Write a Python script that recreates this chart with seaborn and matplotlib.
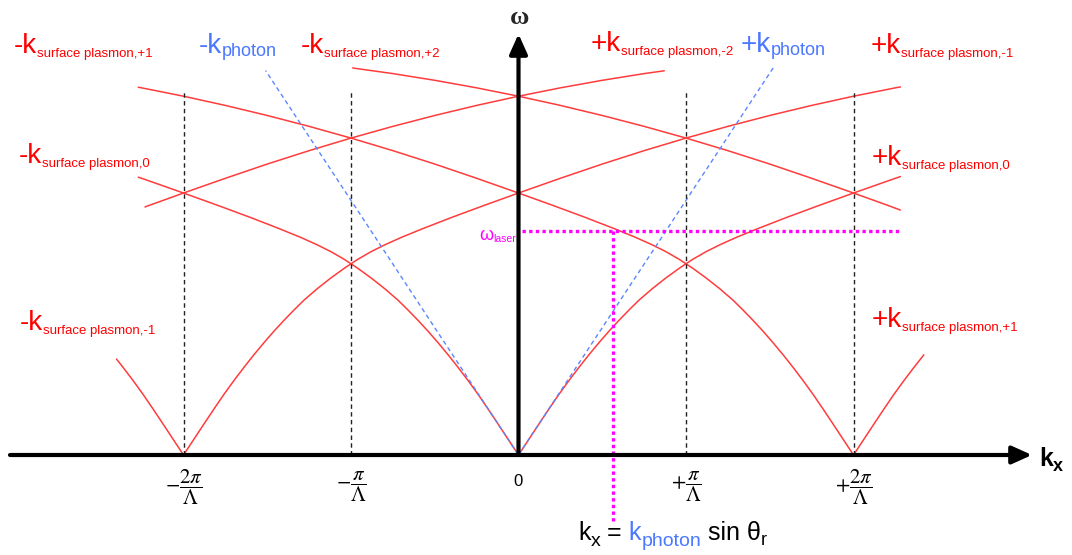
import numpy as np
import pandas as pd
import matplotlib
matplotlib.use("Agg")
import matplotlib.pyplot as plt
import seaborn as sns

# ---- data -------------------------------------------------------------
# one surface-plasmon branch: offset from its zone centre (units of pi/Lambda) -> frequency
sp_dk = [0.0, 0.06, 0.12, 0.18, 0.24, 0.30, 0.36, 0.42, 0.48, 0.54, 0.60,
         0.66, 0.72, 0.80, 0.88, 0.96, 1.04, 1.12, 1.20, 1.30, 1.43, 1.60,
         1.80, 2.00, 2.25, 2.50, 2.75, 3.00, 3.25, 3.50, 3.75, 4.00, 4.25,
         4.50, 4.75, 5.00]
sp_w = [0.0, 0.091, 0.182, 0.272, 0.360, 0.443, 0.522, 0.598, 0.670, 0.739,
        0.804, 0.866, 0.925, 0.994, 1.057, 1.115, 1.168, 1.214, 1.254, 1.299,
        1.352, 1.418, 1.492, 1.564, 1.652, 1.737, 1.817, 1.892, 1.962, 2.027,
        2.087, 2.142, 2.192, 2.237, 2.277, 2.312]

# folded branches: zone centre (pi/Lambda), direction, drawn offset range
branch_centre = [0, 0, -2, -2, 2, 2, -4, 4]
branch_dir = [1, -1, 1, -1, -1, 1, 1, -1]
branch_start = [0.0, 0.0, 0.0, 0.0, 0.0, 0.0, 1.77, 1.72]
branch_end = [2.28, 2.27, 4.28, 0.40, 4.27, 0.42, 4.87, 4.99]

# light lines
photon_slope = 1.52
photon_k_end = [-1.51, 1.52]

# Bragg planes
bragg_k = [-2, -1, 1, 2]
bragg_top = 2.18

# laser frequency and matching in-plane wavevector
w_laser = 1.337
k_laser = 0.567
laser_k_right = 2.27
laser_w_bottom = -0.40

tick_k = [-2, -1, 0, 1, 2]
tick_text = [r"$-\dfrac{2\pi}{\Lambda}$", r"$-\dfrac{\pi}{\Lambda}$", "0",
             r"$+\dfrac{\pi}{\Lambda}$", r"$+\dfrac{2\pi}{\Lambda}$"]

# branch labels: main text, subscript, kind, left x / baseline y (px)
label_main = ["-k", "-k", "-k", "+k", "+k", "+k", "-k", "+k", "-k", "+k"]
label_sub = ["surface plasmon,+1", "photon", "surface plasmon,+2",
             "surface plasmon,-2", "photon", "surface plasmon,-1",
             "surface plasmon,0", "surface plasmon,0",
             "surface plasmon,-1", "surface plasmon,+1"]
label_kind = ["sp", "ph", "sp", "sp", "ph", "sp", "sp", "sp", "sp", "sp"]
label_pos = [(14, 53), (199, 53), (301, 53), (591, 51), (741, 52), (871, 53),
             (19, 163), (872, 165), (20, 330), (872, 327)]

# ---- style ------------------------------------------------------------
sns.set_theme(style="white")
plt.rcParams["font.family"] = ["Liberation Sans", "DejaVu Sans"]
plt.rcParams["mathtext.fontset"] = "stix"

RED_LINE = "#FF3C3C"
RED_TEXT = "#FF0000"
BLUE_LINE = "#5A86FF"
BLUE_TEXT = "#4A78FF"
MAGENTA = "#FF00FF"

W, H = 1072, 555
PX = 167.5           # pixels per pi/Lambda (and per frequency unit)
X0, Y0 = 518.5, 455  # origin in pixels

fig = plt.figure(figsize=(W / 100, H / 100), dpi=100)
ax = fig.add_axes([0, 0, 1, 1])
ax.set_xlim(-X0 / PX, (W - X0) / PX)
ax.set_ylim((Y0 - H) / PX, Y0 / PX)
ax.axis("off")

# ---- surface plasmon branches --------------------------------------
dk = np.asarray(sp_dk)
wv = np.asarray(sp_w)
rows = []
for i, (c, s, d0, d1) in enumerate(zip(branch_centre, branch_dir, branch_start, branch_end)):
    inner = dk[(dk > d0) & (dk < d1)]
    d = np.concatenate([[d0], inner, [d1]])
    w = np.interp(d, dk, wv)
    for di, wi in zip(d, w):
        rows.append({"k": c + s * di, "w": wi, "branch": i})
sp_df = pd.DataFrame(rows)
sns.lineplot(data=sp_df, x="k", y="w", units="branch", estimator=None,
             sort=False, color=RED_LINE, lw=1.1, ax=ax, legend=False)

# ---- light lines -------------------------------------------------------
ph_rows = []
for j, ke in enumerate(photon_k_end):
    ph_rows.append({"k": 0.0, "w": 0.0, "side": j})
    ph_rows.append({"k": ke, "w": photon_slope * abs(ke), "side": j})
ph_df = pd.DataFrame(ph_rows)
sns.lineplot(data=ph_df, x="k", y="w", units="side", estimator=None,
             sort=False, color=BLUE_LINE, lw=1.0, linestyle=(0, (3.2, 2.4)),
             ax=ax, legend=False)

# ---- Bragg planes ----------------------------------------------------
ax.vlines(bragg_k, 0, bragg_top, colors="#222222", lw=1.0,
          linestyles=[(0, (3.2, 2.4))])

# ---- laser lines -----------------------------------------------------
ax.plot([0.02, laser_k_right], [w_laser, w_laser], color=MAGENTA, lw=2.4,
        linestyle=(0, (1, 1)), dash_capstyle="butt")
ax.plot([k_laser, k_laser], [w_laser, laser_w_bottom], color=MAGENTA, lw=2.4,
        linestyle=(0, (1, 1)), dash_capstyle="butt")

# ---- axes with arrows --------------------------------------------------
arrow = dict(arrowstyle="-|>,head_length=1.0,head_width=0.45", lw=3.0,
             color="black", shrinkA=0, shrinkB=0, mutation_scale=12)
ax.annotate("", xy=((1032 - X0) / PX, 0), xytext=((10 - X0) / PX, 0),
            arrowprops=arrow)
ax.annotate("", xy=(0, (Y0 - 34) / PX), xytext=(0, 0), arrowprops=arrow)

# tick labels
for k, t in zip(tick_k, tick_text):
    if t == "0":
        ax.text(k, (Y0 - 481) / PX, t, fontsize=12, ha="center", va="center",
                color="black")
    else:
        ax.text(k, (Y0 - 487) / PX, t, fontsize=15, ha="center", va="center",
                color="black")

renderer = fig.canvas.get_renderer()


def rich(x_px, y_px, pieces):
    """Draw consecutive text pieces on a common baseline (pixel coords)."""
    x = x_px
    for txt, size, color, dy, weight in pieces:
        t = fig.text(x / W, 1 - (y_px + dy) / H, txt, fontsize=size,
                     color=color, ha="left", va="baseline", fontweight=weight)
        x += t.get_window_extent(renderer).width
    return x


for main, sub, kind, (px, py) in zip(label_main, label_sub, label_kind, label_pos):
    if kind == "sp":
        rich(px, py, [(main, 20, RED_TEXT, 0, "normal"),
                      (sub, 9.5, RED_TEXT, 4, "normal")])
    else:
        rich(px, py, [(main, 20, BLUE_TEXT, 0, "normal"),
                      (sub, 13, BLUE_TEXT, 3, "normal")])

# omega_laser label, right-aligned at the frequency axis
wl_main = fig.text(0, 0, "ω", fontsize=13, color=MAGENTA, va="baseline")
wl_sub = fig.text(0, 0, "laser", fontsize=7.5, color=MAGENTA, va="baseline")
w_main = wl_main.get_window_extent(renderer).width
w_sub = wl_sub.get_window_extent(renderer).width
x_start = 516 - w_main - w_sub
wl_main.set_position((x_start / W, 1 - 240 / H))
wl_sub.set_position(((x_start + w_main) / W, 1 - 242 / H))

# axis titles
fig.text(520 / W, 1 - 17 / H, "ω", fontsize=19, fontweight="bold",
         family=["Liberation Serif", "DejaVu Serif"], ha="center", va="center")
rich(1039, 466, [("k", 18, "black", 0, "bold"), ("x", 13, "black", 5, "bold")])

# wavevector matching relation
rich(578, 540, [("k", 18, "black", 0, "normal"), ("x", 14, "black", 6, "normal"),
                (" = ", 18, "black", 0, "normal"), ("k", 18, BLUE_TEXT, 0, "normal"),
                ("photon", 14, BLUE_TEXT, 6, "normal"),
                (" sin θ", 18, "black", 0, "normal"), ("r", 13, "black", 5, "normal")])

fig.savefig("out.png", dpi=100)
